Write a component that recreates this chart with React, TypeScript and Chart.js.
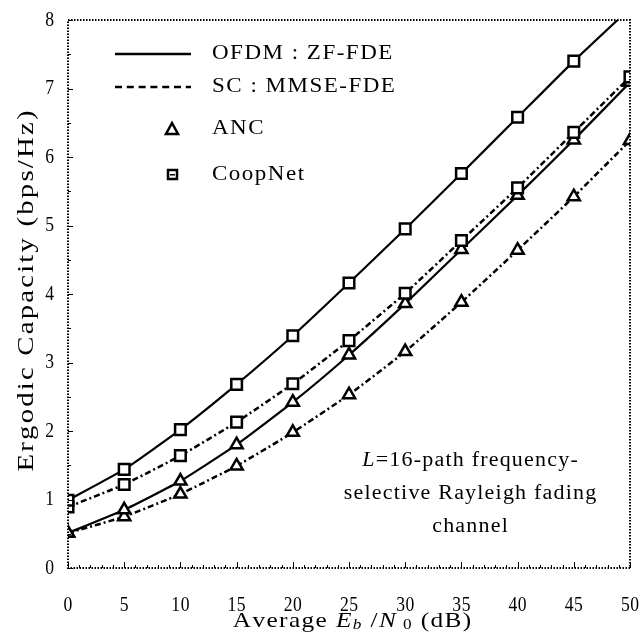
import React, { useEffect, useRef } from "react";
import { Chart, registerables } from "chart.js";

Chart.register(...registerables);

const snr = [0, 5, 10, 15, 20, 25, 30, 35, 40, 45, 50];
const ofdmCoopNet = [0.99, 1.44, 2.02, 2.68, 3.39, 4.16, 4.95, 5.76, 6.58, 7.4, 8.17];
const scCoopNet = [0.89, 1.22, 1.64, 2.13, 2.69, 3.32, 4.01, 4.78, 5.55, 6.36, 7.17];
const ofdmAnc = [0.51, 0.85, 1.27, 1.8, 2.42, 3.11, 3.86, 4.65, 5.44, 6.25, 7.09];
const scAnc = [0.51, 0.75, 1.08, 1.49, 1.98, 2.53, 3.16, 3.88, 4.64, 5.42, 6.24];
const xTicks = [0, 5, 10, 15, 20, 25, 30, 35, 40, 45, 50];
const yTicks = [0, 1, 2, 3, 4, 5, 6, 7, 8];

const SERIF = "'Liberation Serif', 'DejaVu Serif', serif";
const SC_DASH = [6, 3, 2, 3];

const toPts = (ys: number[]) => snr.map((x, i) => ({ x, y: ys[i] }));

function measure(ctx: any, text: string, font: string, stretch: number, ls: number) {
  ctx.save();
  ctx.font = font;
  let w = 0;
  for (const ch of text) w += ctx.measureText(ch).width * stretch + ls;
  ctx.restore();
  return w - (text.length ? ls : 0);
}

// draw text char-by-char with horizontal stretch and letter spacing
function sText(ctx: any, text: string, x: number, y: number, font: string, stretch: number, ls: number, align: "left" | "center" | "right") {
  const w = measure(ctx, text, font, stretch, ls);
  let sx = x;
  if (align === "center") sx = x - w / 2;
  else if (align === "right") sx = x - w;
  ctx.save();
  ctx.font = font;
  ctx.textAlign = "left";
  let px = sx;
  for (const ch of text) {
    ctx.save();
    ctx.translate(px, y);
    ctx.scale(stretch, 1);
    ctx.fillText(ch, 0, 0);
    ctx.restore();
    px += ctx.measureText(ch).width * stretch + ls;
  }
  ctx.restore();
  return w + ls;
}

type Run = [string, string, number];

function drawRuns(ctx: any, runs: Run[], cx: number, y: number, stretch: number, ls: number) {
  let total = 0;
  for (const [t, f] of runs) total += measure(ctx, t, f, stretch, ls) + ls;
  total -= ls;
  let px = cx - total / 2;
  for (const [t, f, dy] of runs) {
    px += sText(ctx, t, px, y + dy, f, stretch, ls, "left");
  }
}

const framePlugin = {
  id: "frame",
  afterDatasetsDraw(chart: any) {
    const { ctx, chartArea: a, scales } = chart;
    const xs = scales.x;
    const ys = scales.y;
    ctx.save();
    ctx.strokeStyle = "#000";
    ctx.lineWidth = 2;
    ctx.setLineDash([1.5, 1.5]);
    ctx.strokeRect(a.left, a.top, a.right - a.left, a.bottom - a.top);
    ctx.setLineDash([]);
    ctx.lineWidth = 1;
    ctx.beginPath();
    for (let v = 0; v <= 50; v += 1) {
      const px = Math.round(xs.getPixelForValue(v)) + 0.5;
      const len = v % 5 === 0 ? 6 : 3;
      ctx.moveTo(px, a.bottom);
      ctx.lineTo(px, a.bottom - len);
    }
    for (let v = 0; v <= 8; v += 0.5) {
      const py = Math.round(ys.getPixelForValue(v)) + 0.5;
      const len = v % 1 === 0 ? 5 : 3;
      ctx.moveTo(a.left, py);
      ctx.lineTo(a.left + len, py);
    }
    ctx.stroke();
    ctx.restore();
  },
  afterDraw(chart: any) {
    const { ctx, scales } = chart;
    ctx.save();
    ctx.fillStyle = "#000";
    ctx.strokeStyle = "#000";
    ctx.textBaseline = "middle";

    // tick labels
    const tickFont = `22px ${SERIF}`;
    for (const v of xTicks) {
      sText(ctx, String(v), scales.x.getPixelForValue(v), 605, tickFont, 0.8, 0.5, "center");
    }
    for (const v of yTicks) {
      sText(ctx, String(v), 54, scales.y.getPixelForValue(v), tickFont, 0.8, 0.5, "right");
    }

    // legend lines
    ctx.lineWidth = 2.5;
    ctx.beginPath();
    ctx.moveTo(115, 54);
    ctx.lineTo(191, 54);
    ctx.stroke();
    ctx.setLineDash([7, 4.8]);
    ctx.beginPath();
    ctx.moveTo(115, 87);
    ctx.lineTo(191, 87);
    ctx.stroke();
    ctx.setLineDash([]);
    const legFont = `20px ${SERIF}`;
    sText(ctx, "OFDM : ZF-FDE", 212, 54, legFont, 1.15, 1.5, "left");
    sText(ctx, "SC : MMSE-FDE", 212, 87, legFont, 1.15, 1.5, "left");
    // legend markers
    ctx.lineWidth = 2.5;
    ctx.beginPath();
    ctx.moveTo(172, 123);
    ctx.lineTo(178, 134);
    ctx.lineTo(166, 134);
    ctx.closePath();
    ctx.stroke();
    ctx.strokeRect(168, 170, 9, 9);
    ctx.fillRect(170, 174, 5, 1.5);
    sText(ctx, "ANC", 212, 129, legFont, 1.15, 1.5, "left");
    sText(ctx, "CoopNet", 212, 175, legFont, 1.15, 1.5, "left");

    // annotation
    const annF = `20px ${SERIF}`;
    const annI = `italic 20px ${SERIF}`;
    drawRuns(ctx, [["L", annI, 0], ["=16-path frequency-", annF, 0]], 470, 461, 1.1, 1.2);
    sText(ctx, "selective Rayleigh fading", 470, 494, annF, 1.1, 1.2, "center");
    sText(ctx, "channel", 470, 527, annF, 1.1, 1.2, "center");

    // y title
    ctx.save();
    ctx.translate(27, 291);
    ctx.rotate(-Math.PI / 2);
    sText(ctx, "Ergodic Capacity (bps/Hz)", 0, 0, `23px ${SERIF}`, 1.25, 2.2, "center");
    ctx.restore();

    // x title
    const tF = `22px ${SERIF}`;
    const tI = `italic 22px ${SERIF}`;
    const sI = `italic 15px ${SERIF}`;
    const sF = `15px ${SERIF}`;
    drawRuns(
      ctx,
      [
        ["Average ", tF, 0],
        ["E", tI, 0],
        ["b", sI, 4],
        [" /", tF, 0],
        ["N", tI, 0],
        [" 0", sF, 4],
        [" (dB)", tF, 0],
      ],
      352,
      621,
      1.15,
      1.4
    );
    ctx.restore();
  },
};

export default function App() {
  const ref = useRef<HTMLCanvasElement | null>(null);
  useEffect(() => {
    if (!ref.current) return;
    const common = {
      borderColor: "#000",
      pointBorderColor: "#000",
      pointBackgroundColor: "#fff",
      pointBorderWidth: 2.5,
      borderWidth: 2.2,
      tension: 0.15,
      fill: false,
    };
    const chart = new Chart(ref.current, {
      type: "line",
      data: {
        datasets: [
          { ...common, label: "OFDM CoopNet", data: toPts(ofdmCoopNet), pointStyle: "rect", pointRadius: 7.5 },
          { ...common, label: "SC CoopNet", data: toPts(scCoopNet), pointStyle: "rect", pointRadius: 7.5, borderDash: SC_DASH, borderWidth: 2.5 },
          { ...common, label: "OFDM ANC", data: toPts(ofdmAnc), pointStyle: "triangle", pointRadius: 7 },
          { ...common, label: "SC ANC", data: toPts(scAnc), pointStyle: "triangle", pointRadius: 7, borderDash: SC_DASH, borderWidth: 2.5 },
        ],
      },
      options: {
        animation: false,
        responsive: false,
        maintainAspectRatio: false,
        layout: { padding: { top: 20, right: 10, left: 0, bottom: 0 } },
        plugins: { legend: { display: false }, tooltip: { enabled: false } },
        scales: {
          x: {
            type: "linear",
            min: 0,
            max: 50,
            afterBuildTicks: (s: any) => {
              s.ticks = xTicks.map((v) => ({ value: v }));
            },
            afterFit: (s: any) => {
              s.height = 69;
              s.paddingLeft = 0;
              s.paddingRight = 0;
            },
            grid: { display: false, drawTicks: false },
            border: { display: false },
            ticks: { display: false },
          },
          y: {
            type: "linear",
            min: 0,
            max: 8,
            afterBuildTicks: (s: any) => {
              s.ticks = yTicks.map((v) => ({ value: v }));
            },
            afterFit: (s: any) => {
              s.width = 68;
              s.paddingTop = 0;
              s.paddingBottom = 0;
            },
            grid: { display: false, drawTicks: false },
            border: { display: false },
            ticks: { display: false },
          },
        },
      },
      plugins: [framePlugin],
    });
    return () => chart.destroy();
  }, []);
  return (
    <div style={{ position: "fixed", left: 0, top: 0, width: 640, height: 637, background: "#fff" }}>
      <canvas ref={ref} width={640} height={637} style={{ width: 640, height: 637 }} />
    </div>
  );
}
